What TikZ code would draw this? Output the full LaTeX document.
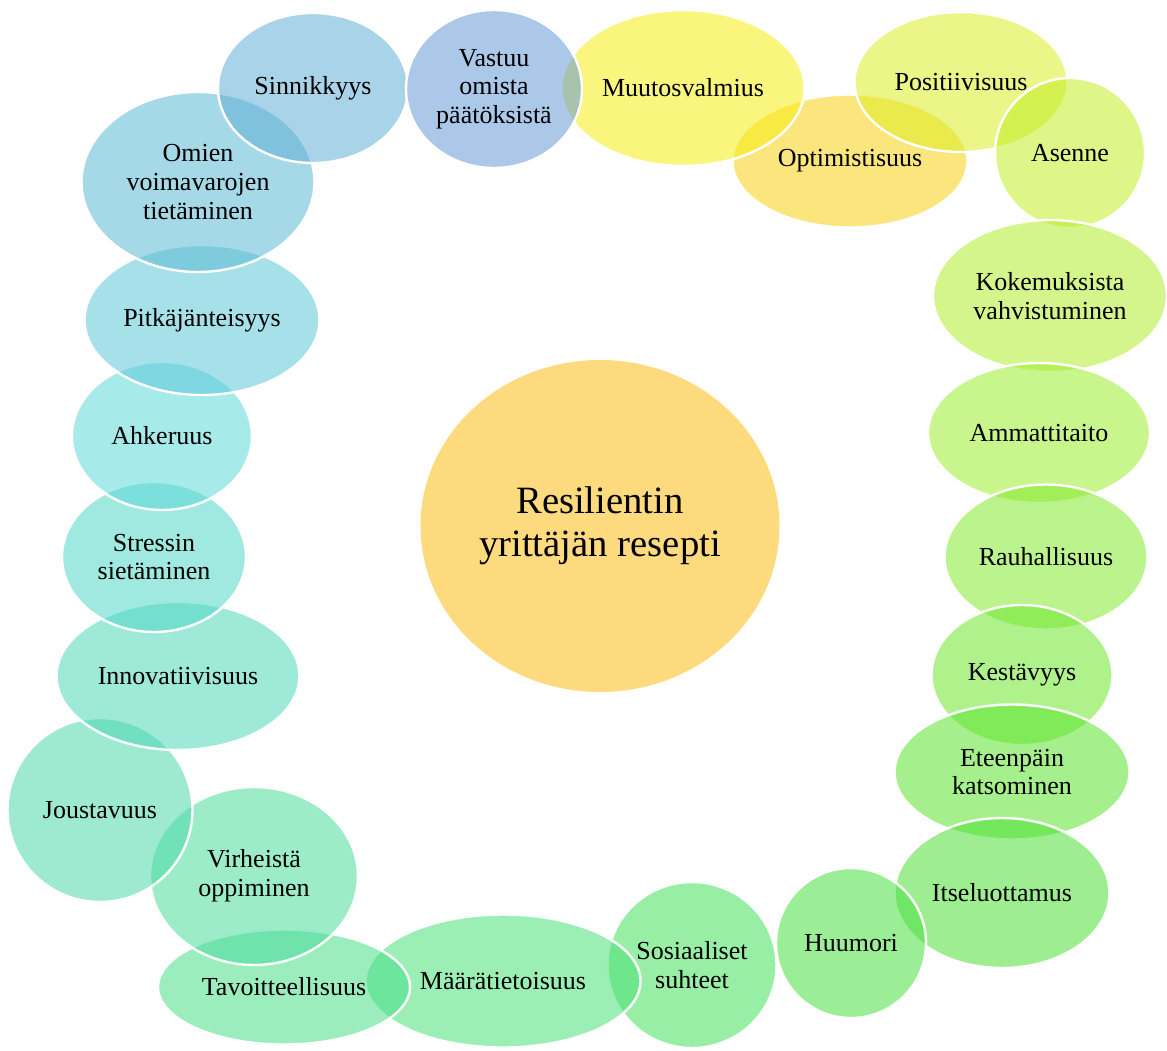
\documentclass[tikz,border=0pt]{standalone}
\usepackage{fontspec}
\setmainfont{Liberation Serif}
\usetikzlibrary{shapes.geometric}

\definecolor{cResepti}{RGB}{253,218,125}
\definecolor{cVastuu}{RGB}{102,155,213}
\definecolor{cSinn}{RGB}{97,175,213}
\definecolor{cOmien}{RGB}{93,186,213}
\definecolor{cPitka}{RGB}{93,200,217}
\definecolor{cAhker}{RGB}{93,217,217}
\definecolor{cStressi}{RGB}{82,215,199}
\definecolor{cInnov}{RGB}{79,215,184}
\definecolor{cJousto}{RGB}{77,217,170}
\definecolor{cVirhe}{RGB}{75,220,155}
\definecolor{cTavoite}{RGB}{73,222,137}
\definecolor{cMaara}{RGB}{73,224,119}
\definecolor{cSosiaal}{RGB}{68,224,91}
\definecolor{cHuumori}{RGB}{73,224,64}
\definecolor{cItse}{RGB}{79,224,55}
\definecolor{cEteen}{RGB}{91,228,46}
\definecolor{cKesta}{RGB}{110,231,46}
\definecolor{cRauha}{RGB}{131,233,46}
\definecolor{cAmmatti}{RGB}{155,237,46}
\definecolor{cKokem}{RGB}{177,237,46}
\definecolor{cAsenne}{RGB}{195,237,37}
\definecolor{cPosit}{RGB}{220,237,37}
\definecolor{cOptim}{RGB}{246,210,19}
\definecolor{cMuutos}{RGB}{246,237,19}

\begin{document}
\begin{tikzpicture}[x=0.75pt, y=-0.75pt,
    bubble/.style={ellipse, draw=white, line width=1.8pt, fill opacity=0.55, text opacity=1, inner sep=0pt, align=center, font=\fontsize{19.5}{21.5}\selectfont},
    sz/.style 2 args={minimum width=#1*0.75pt, minimum height=#2*0.75pt}]
			\useasboundingbox (0,0) rectangle (1167,1050);
			% centre
			\node (resepti) [ellipse, fill=cResepti, sz={359}{332}, inner sep=0pt, align=center, font=\fontsize{29}{32}\selectfont] at (600,526) {Resilientin\\yrittäjän resepti};
			% right side, top to bottom
			\node (optim) [bubble, fill=cOptim, sz={235}{133}] at (850,161) {Optimistisuus};
			\node (posit) [bubble, fill=cPosit, sz={213}{140}] at (961,82) {Positiivisuus};
			\node (asenne) [bubble, fill=cAsenne, sz={150}{150}] at (1070,153) {Asenne};
			\node (kokem) [bubble, fill=cKokem, sz={234}{152}] at (1050,296) {Kokemuksista\\vahvistuminen};
			\node (ammatti) [bubble, fill=cAmmatti, sz={222}{140}] at (1039,433) {Ammattitaito};
			\node (rauha) [bubble, fill=cRauha, sz={203}{145}] at (1046,557) {Rauhallisuus};
			\node (kesta) [bubble, fill=cKesta, sz={181}{140}] at (1022,675) {Kestävyys};
			\node (eteen) [bubble, fill=cEteen, sz={235}{135}] at (1012,772) {Eteenpäin\\katsominen};
			\node (itse) [bubble, fill=cItse, sz={215}{150}] at (1002,893) {Itseluottamus};
			% bottom, right to left
			\node (huumori) [bubble, fill=cHuumori, sz={150}{150}] at (851,943) {Huumori};
			\node (sosiaal) [bubble, fill=cSosiaal, sz={169}{166}] at (692,965) {Sosiaaliset\\suhteet};
			\node (maara) [bubble, fill=cMaara, sz={275}{133}] at (503,981) {Määrätietoisuus};
			\node (tavoite) [bubble, fill=cTavoite, sz={252}{115}] at (284,987) {Tavoitteellisuus};
			\node (virhe) [bubble, fill=cVirhe, sz={208}{178}] at (254,876) {Virheistä\\oppiminen};
			% left side, bottom to top
			\node (jousto) [bubble, fill=cJousto, sz={185}{184}] at (100,810) {Joustavuus};
			\node (innov) [bubble, fill=cInnov, sz={243}{148}] at (178,676) {Innovatiivisuus};
			\node (stressi) [bubble, fill=cStressi, sz={184}{150}] at (154,557) {Stressin\\sietäminen};
			\node (ahker) [bubble, fill=cAhker, sz={180}{148}] at (162,436) {Ahkeruus};
			\node (pitka) [bubble, fill=cPitka, sz={235}{150}] at (202,320) {Pitkäjänteisyys};
			\node (omien) [bubble, fill=cOmien, sz={233}{180}] at (198,182) {Omien\\voimavarojen\\tietäminen};
			% top row
			\node (sinn) [bubble, fill=cSinn, sz={190}{150}] at (313,88) {Sinnikkyys};
			\node (muutos) [bubble, fill=cMuutos, sz={243}{156}] at (683,88) {Muutosvalmius};
			\node (vastuu) [bubble, fill=cVastuu, sz={176}{158}] at (494,89) {Vastuu\\omista\\päätöksistä};
		\end{tikzpicture}
\end{document}
